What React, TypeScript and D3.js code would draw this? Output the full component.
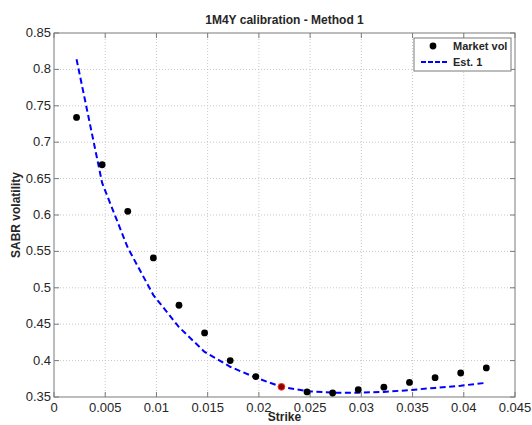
import React from "react";
import * as d3 from "d3";

// Strikes and volatilities for the 1M4Y smile
const strikes = [
  0.0022, 0.0047, 0.0072, 0.0097, 0.0122, 0.0147, 0.0172, 0.0197, 0.0222,
  0.0247, 0.0272, 0.0297, 0.0322, 0.0347, 0.0372, 0.0397, 0.0422,
];
const marketVol = [
  0.734, 0.669, 0.605, 0.541, 0.476, 0.438, 0.4, 0.378, 0.364, 0.357, 0.3555,
  0.36, 0.3635, 0.37, 0.3765, 0.383, 0.39,
];
const estVol = [
  0.814, 0.644, 0.555, 0.49, 0.446, 0.412, 0.3915, 0.3765, 0.364, 0.358, 0.356,
  0.356, 0.357, 0.3595, 0.3625, 0.3655, 0.3695,
];
const atmIndex = 8;
const xTicks = [0, 0.005, 0.01, 0.015, 0.02, 0.025, 0.03, 0.035, 0.04, 0.045];
const yTicks = [0.35, 0.4, 0.45, 0.5, 0.55, 0.6, 0.65, 0.7, 0.75, 0.8, 0.85];

const W = 532;
const H = 425;
const plot = { left: 54, right: 515, top: 33, bottom: 397 };
const font = "'Liberation Sans', Arial, Helvetica, sans-serif";
const axisColor = "#7a7a7a";
const gridColor = "#c8c8c8";
const textColor = "#262626";

const fmt = (v: number) => String(+v.toFixed(4));

export default function App() {
  const x = d3.scaleLinear().domain([0, 0.045]).range([plot.left, plot.right]);
  const y = d3.scaleLinear().domain([0.35, 0.85]).range([plot.bottom, plot.top]);

  const estLine = d3
    .line<number>()
    .x((_, i) => x(strikes[i]))
    .y((d) => y(d))(estVol) as string;

  const tickLen = 5;

  return (
    <svg
      width={W}
      height={H}
      style={{ position: "absolute", left: 0, top: 0, background: "#fff" }}
      fontFamily={font}
    >
      <rect x={0} y={0} width={W} height={H} fill="#fff" />

      {/* grid */}
      {xTicks.slice(1, -1).map((t) => (
        <line
          key={"gx" + t}
          x1={x(t)}
          x2={x(t)}
          y1={plot.top}
          y2={plot.bottom}
          stroke={gridColor}
          strokeWidth={1}
          strokeDasharray="1,2"
        />
      ))}
      {yTicks.slice(1, -1).map((t) => (
        <line
          key={"gy" + t}
          x1={plot.left}
          x2={plot.right}
          y1={y(t)}
          y2={y(t)}
          stroke={gridColor}
          strokeWidth={1}
          strokeDasharray="1,2"
        />
      ))}

      {/* box and inward ticks */}
      <rect
        x={plot.left}
        y={plot.top}
        width={plot.right - plot.left}
        height={plot.bottom - plot.top}
        fill="none"
        stroke={axisColor}
        strokeWidth={1}
      />
      {xTicks.map((t) => (
        <g key={"tx" + t}>
          <line x1={x(t)} x2={x(t)} y1={plot.bottom} y2={plot.bottom - tickLen} stroke={axisColor} />
          <line x1={x(t)} x2={x(t)} y1={plot.top} y2={plot.top + tickLen} stroke={axisColor} />
          <text
            x={x(t)}
            y={plot.bottom + 15}
            textAnchor="middle"
            fontSize={13}
            fill={textColor}
          >
            {fmt(t)}
          </text>
        </g>
      ))}
      {yTicks.map((t) => (
        <g key={"ty" + t}>
          <line x1={plot.left} x2={plot.left + tickLen} y1={y(t)} y2={y(t)} stroke={axisColor} />
          <line x1={plot.right} x2={plot.right - tickLen} y1={y(t)} y2={y(t)} stroke={axisColor} />
          <text
            x={plot.left - 3}
            y={y(t) + 4}
            textAnchor="end"
            fontSize={13}
            fill={textColor}
          >
            {fmt(t)}
          </text>
        </g>
      ))}

      {/* estimated smile */}
      <path
        d={estLine}
        fill="none"
        stroke="#0000ff"
        strokeWidth={2}
        strokeDasharray="6,3.5"
      />

      {/* market quotes */}
      {marketVol.map((v, i) => (
        <circle
          key={"m" + i}
          cx={x(strikes[i])}
          cy={y(v)}
          r={3.4}
          fill={i === atmIndex ? "#8b0000" : "#000"}
          stroke={i === atmIndex ? "#ff3030" : "none"}
          strokeWidth={i === atmIndex ? 1 : 0}
        />
      ))}

      {/* titles */}
      <text
        x={(plot.left + plot.right) / 2}
        y={24}
        textAnchor="middle"
        fontSize={12}
        fontWeight="bold"
        fill={textColor}
      >
        1M4Y calibration - Method 1
      </text>
      <text
        x={(plot.left + plot.right) / 2}
        y={421}
        textAnchor="middle"
        fontSize={12}
        fontWeight="bold"
        fill={textColor}
      >
        Strike
      </text>
      <text
        transform={`translate(20, ${(plot.top + plot.bottom) / 2}) rotate(-90)`}
        textAnchor="middle"
        fontSize={12}
        fontWeight="bold"
        fill={textColor}
      >
        SABR volatility
      </text>

      {/* legend */}
      <g>
        <rect x={414} y={38} width={97} height={33} fill="#fff" stroke={axisColor} />
        <circle cx={433} cy={46} r={3.4} fill="#000" />
        <line
          x1={421}
          x2={447}
          y1={62}
          y2={62}
          stroke="#0000ff"
          strokeWidth={2}
          strokeDasharray="5,2"
        />
        <text x={453} y={50} fontSize={11} fontWeight="bold" fill={textColor}>
          Market vol
        </text>
        <text x={453} y={66} fontSize={11} fontWeight="bold" fill={textColor}>
          Est. 1
        </text>
      </g>
    </svg>
  );
}
